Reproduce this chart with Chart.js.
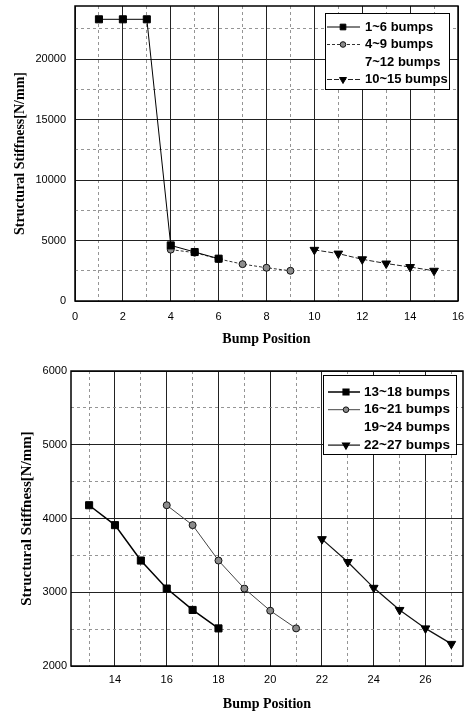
<!DOCTYPE html>
<html><head><meta charset="utf-8">
<script src="https://cdn.jsdelivr.net/npm/chart.js@4.4.1/dist/chart.umd.min.js"></script>
<style>
html,body{margin:0;padding:0;background:#fff;}
#c1{position:absolute;left:0;top:0;}
#c2{position:absolute;left:0;top:350px;}
</style></head><body>
<canvas id="c1" width="469" height="350"></canvas>
<canvas id="c2" width="469" height="364"></canvas>
<script>
// ---- data: top chart ----
const topLabels = ['1~6 bumps', '4~9 bumps', '7~12 bumps', '10~15 bumps'];
const topX1 = [1, 2, 3, 4, 5, 6];
const topY1 = [23300, 23300, 23300, 4600, 4050, 3500];
const topX2 = [4, 5, 6, 7, 8, 9];
const topY2 = [4250, 4000, 3480, 3050, 2750, 2500];
const topX3 = [];
const topY3 = [];
const topX4 = [10, 11, 12, 13, 14, 15];
const topY4 = [4230, 3920, 3450, 3100, 2810, 2500];
const topXTickLabels = [0, 2, 4, 6, 8, 10, 12, 14, 16];
const topXGrid = [1, 2, 3, 4, 5, 6, 7, 8, 9, 10, 11, 12, 13, 14, 15, 0, 16];
const topYTickLabels = [0, 5000, 10000, 15000, 20000];
const topYGrid = [0, 2500, 5000, 7500, 10000, 12500, 15000, 17500, 20000, 22500];

// ---- data: bottom chart ----
const botLabels = ['13~18 bumps', '16~21 bumps', '19~24 bumps', '22~27 bumps'];
const botX1 = [13, 14, 15, 16, 17, 18];
const botY1 = [4180, 3910, 3430, 3050, 2760, 2510];
const botX2 = [16, 17, 18, 19, 20, 21];
const botY2 = [4180, 3910, 3430, 3050, 2750, 2510];
const botX3 = [];
const botY3 = [];
const botX4 = [22, 23, 24, 25, 26, 27];
const botY4 = [3720, 3410, 3060, 2760, 2510, 2300];
const botXTickLabels = [14, 16, 18, 20, 22, 24, 26];
const botXGrid = [13, 14, 15, 16, 17, 18, 19, 20, 21, 22, 23, 24, 25, 26, 27];
const botYTickLabels = [2000, 3000, 4000, 5000, 6000];
const botYGrid = [2000, 2500, 3000, 3500, 4000, 4500, 5000, 5500, 6000];

const xAxisTitle = 'Bump Position';
const yAxisTitle = 'Structural Stiffness[N/mm]';

function pts(xs, ys) { return xs.map((x, i) => ({x: x, y: ys[i]})); }

const frame = {
  id: 'frame',
  afterDraw(chart) {
    const a = chart.chartArea, ctx = chart.ctx;
    ctx.save();
    ctx.strokeStyle = '#000'; ctx.lineWidth = 1.5;
    ctx.strokeRect(a.left, a.top, a.right - a.left, a.bottom - a.top);
    ctx.restore();
  }
};

const boxLegend = {
  id: 'boxLegend',
  afterDraw(chart, args, o) {
    const ctx = chart.ctx;
    ctx.save();
    ctx.fillStyle = '#fff';
    ctx.fillRect(o.x, o.y, o.w, o.h);
    ctx.strokeStyle = '#000'; ctx.lineWidth = 1;
    ctx.strokeRect(o.x + 0.5, o.y + 0.5, o.w, o.h);
    chart.data.datasets.forEach((ds, i) => {
      const cy = o.y0 + i * o.rowH;
      if (ds.showSymbol !== false) {
        ctx.setLineDash(ds.borderDash || []);
        ctx.strokeStyle = ds.borderColor; ctx.lineWidth = ds.borderWidth;
        ctx.beginPath(); ctx.moveTo(o.lx0, cy); ctx.lineTo(o.lx1, cy); ctx.stroke();
        ctx.setLineDash([]);
        ctx.fillStyle = ds.pointBackgroundColor; ctx.strokeStyle = ds.pointBorderColor;
        Chart.helpers.drawPoint(ctx, {pointStyle: ds.pointStyle, radius: ds.pointRadius * 0.8,
          rotation: ds.pointRotation || 0, borderWidth: 1}, o.px, cy);
      }
      ctx.fillStyle = '#000';
      ctx.font = 'bold ' + o.fontSize + 'px "Liberation Sans", Arial, sans-serif';
      ctx.textBaseline = 'middle'; ctx.textAlign = 'left';
      ctx.fillText(ds.label, o.tx, cy);
    });
    ctx.restore();
  }
};

function makeOpts(cfg) {
  return {
    responsive: false, animation: false,
    layout: {padding: cfg.pad},
    plugins: {legend: {display: false}, tooltip: {enabled: false}, boxLegend: cfg.legend},
    scales: {
      x: {
        type: 'linear', min: cfg.xmin, max: cfg.xmax,
        afterBuildTicks(s) { s.ticks = cfg.xGrid.map(v => ({value: v})); },
        afterFit(s) { s.height = cfg.xh; s.paddingLeft = 0; s.paddingRight = 0; },
        ticks: {autoSkip: false, maxRotation: 0, padding: cfg.xtp,
          color: '#000', font: {family: '"Liberation Sans", Arial, sans-serif', size: 11},
          callback: v => cfg.xLabels.includes(v) ? String(v) : ''},
        grid: {drawTicks: false,
          color: c => cfg.xLabels.includes(c.tick.value) ? '#222' : '#8a8a8a',
          lineWidth: c => cfg.xLabels.includes(c.tick.value) ? 1 : 0.9},
        border: {display: false, dash: c => cfg.xLabels.includes(c.tick.value) ? [] : [3, 3]},
        title: {display: true, text: xAxisTitle, color: '#000', padding: {top: 0, bottom: cfg.xtitlePad},
          font: {family: '"Liberation Serif", "Times New Roman", serif', size: 14, weight: 'bold'}}
      },
      y: {
        min: cfg.ymin, max: cfg.ymax,
        afterBuildTicks(s) { s.ticks = cfg.yGrid.map(v => ({value: v})); },
        afterFit(s) { s.width = cfg.yw; s.paddingTop = 0; s.paddingBottom = 0; },
        ticks: {autoSkip: false, padding: cfg.ytp,
          color: '#000', font: {family: '"Liberation Sans", Arial, sans-serif', size: 11},
          callback: v => cfg.yLabels.includes(v) ? String(v) : ''},
        grid: {drawTicks: false,
          color: c => cfg.yLabels.includes(c.tick.value) ? '#222' : '#8a8a8a',
          lineWidth: c => cfg.yLabels.includes(c.tick.value) ? 1 : 0.9},
        border: {display: false, dash: c => cfg.yLabels.includes(c.tick.value) ? [] : [3, 3]},
        title: {display: true, text: yAxisTitle, color: '#000', padding: {top: cfg.ytitlePad, bottom: 0},
          font: {family: '"Liberation Serif", "Times New Roman", serif', size: cfg.ytitleSize, weight: 'bold'}}
      }
    }
  };
}

function ds(label, data, style) {
  return Object.assign({label: label, data: data, tension: 0, showLine: true,
    pointBorderWidth: 1, pointHoverRadius: 0}, style);
}

const sq = {pointStyle: 'rect', pointRadius: 5, pointBackgroundColor: '#000', pointBorderColor: '#000'};
const ci = {pointStyle: 'circle', pointRadius: 3.5, pointBackgroundColor: '#8c8c8c', pointBorderColor: '#111'};
const tr = {pointStyle: 'triangle', pointRotation: 180, pointRadius: 5, pointBackgroundColor: '#000', pointBorderColor: '#000'};
const none = {pointRadius: 0, borderWidth: 0, borderColor: 'rgba(0,0,0,0)', showSymbol: false, showLine: false};

new Chart(document.getElementById('c1'), {
  type: 'line',
  data: {datasets: [
    ds(topLabels[0], pts(topX1, topY1), Object.assign({borderColor: '#000', borderWidth: 1}, sq)),
    ds(topLabels[1], pts(topX2, topY2), Object.assign({borderColor: '#333', borderWidth: 1, borderDash: [3, 2]}, ci)),
    ds(topLabels[2], pts(topX3, topY3), none),
    ds(topLabels[3], pts(topX4, topY4), Object.assign({borderColor: '#222', borderWidth: 1, borderDash: [5, 2]}, tr))
  ]},
  options: makeOpts({
    pad: {top: 3, right: 11, left: 0, bottom: 0},
    xmin: 0, xmax: 16, ymin: 0, ymax: 24400,
    xLabels: topXTickLabels, yLabels: topYTickLabels, xGrid: topXGrid, yGrid: topYGrid,
    xh: 49, yw: 75, xtp: 9, ytp: 9, xtitlePad: 2, ytitlePad: 12, ytitleSize: 14,
    legend: {x: 325, y: 13, w: 124, h: 76, y0: 27, rowH: 17.5, lx0: 327, lx1: 360, px: 343, tx: 365, fontSize: 13}
  }),
  plugins: [frame, boxLegend]
});

new Chart(document.getElementById('c2'), {
  type: 'line',
  data: {datasets: [
    ds(botLabels[0], pts(botX1, botY1), Object.assign({borderColor: '#000', borderWidth: 1.5}, sq)),
    ds(botLabels[1], pts(botX2, botY2), Object.assign({borderColor: '#444', borderWidth: 1}, ci)),
    ds(botLabels[2], pts(botX3, botY3), none),
    ds(botLabels[3], pts(botX4, botY4), Object.assign({borderColor: '#111', borderWidth: 1.2}, tr))
  ]},
  options: makeOpts({
    pad: {top: 21, right: 6, left: 0, bottom: 0},
    xmin: 12.3, xmax: 27.45, ymin: 2000, ymax: 6000,
    xLabels: botXTickLabels, yLabels: botYTickLabels, xGrid: botXGrid, yGrid: botYGrid,
    xh: 48, yw: 71, xtp: 7, ytp: 4, xtitlePad: 1, ytitlePad: 18, ytitleSize: 15,
    legend: {x: 323, y: 25, w: 133, h: 79, y0: 42, rowH: 17.7, lx0: 328, lx1: 360, px: 346, tx: 364, fontSize: 13.5}
  }),
  plugins: [frame, boxLegend]
});
</script>
</body></html>
